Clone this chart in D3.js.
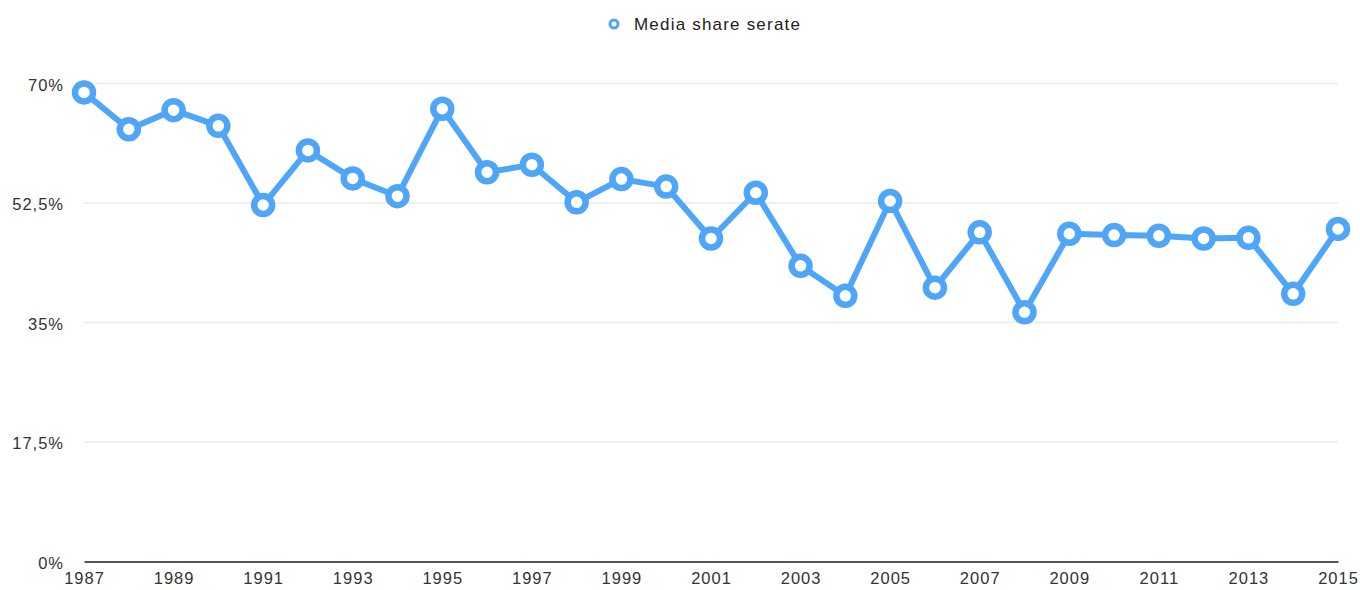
<!DOCTYPE html>
<html>
<head>
<meta charset="utf-8">
<script src="https://cdn.jsdelivr.net/npm/d3@7"></script>
<style>
  body { margin: 0; background: #fff; }
  text { font-family: "Liberation Sans", Arial, Helvetica, sans-serif; }
</style>
</head>
<body>
<svg id="chart" width="1360" height="590"></svg>
<script>
// anni e share medio delle serate
var years = [1987, 1988, 1989, 1990, 1991, 1992, 1993, 1994, 1995, 1996,
             1997, 1998, 1999, 2000, 2001, 2002, 2003, 2004, 2005, 2006,
             2007, 2008, 2009, 2010, 2011, 2012, 2013, 2014, 2015];
var share = [68.7, 63.3, 66.1, 63.8, 52.2, 60.2, 56.1, 53.5, 66.3, 57.0,
             58.1, 52.6, 56.0, 54.9, 47.3, 54.0, 43.3, 38.9, 52.8, 40.1,
             48.2, 36.5, 48.0, 47.8, 47.7, 47.3, 47.4, 39.2, 48.7];
var yTicks = [0, 17.5, 35, 52.5, 70];
var xTicks = [1987, 1989, 1991, 1993, 1995, 1997, 1999, 2001, 2003, 2005, 2007, 2009, 2011, 2013, 2015];
var seriesName = "Media share serate";

var blue = "#4fa5f8";
var svg = d3.select("#chart");

var x = d3.scaleLinear().domain([1987, 2015]).range([84, 1338]);
var y = d3.scaleLinear().domain([0, 70]).range([561.5, 83.5]);

function fmt(v) {
  return String(v).replace(".", ",") + "%";
}

// griglia
svg.append("g")
  .selectAll("line")
  .data(yTicks.filter(function(d) { return d > 0; }))
  .enter().append("line")
  .attr("x1", x.range()[0])
  .attr("x2", x.range()[1])
  .attr("y1", function(d) { return y(d); })
  .attr("y2", function(d) { return y(d); })
  .attr("stroke", "#ebebeb")
  .attr("stroke-width", 1.3);

// etichette asse y
svg.append("g")
  .selectAll("text")
  .data(yTicks)
  .enter().append("text")
  .attr("x", 64)
  .attr("y", function(d) { return y(d) + 1.5; })
  .attr("dy", "0.35em")
  .attr("text-anchor", "end")
  .attr("font-size", 16.5)
  .attr("letter-spacing", 1)
  .attr("fill", "#333")
  .text(fmt);

// asse x
var xAxis = d3.axisBottom(x)
  .tickValues(xTicks)
  .tickFormat(d3.format("d"))
  .tickSize(0)
  .tickPadding(11);

var gx = svg.append("g")
  .attr("transform", "translate(0," + y(0) + ")")
  .call(xAxis);
gx.select(".domain").attr("stroke", "#555").attr("stroke-width", 2.2);
gx.selectAll("text")
  .attr("font-size", 16.5)
  .attr("letter-spacing", 1)
  .attr("fill", "#333")
  .style("font-family", "'Liberation Sans', Arial, sans-serif");

// linea
var line = d3.line()
  .x(function(d, i) { return x(years[i]); })
  .y(function(d) { return y(d); });

svg.append("path")
  .datum(share)
  .attr("d", line)
  .attr("fill", "none")
  .attr("stroke", blue)
  .attr("stroke-width", 6)
  .attr("stroke-linejoin", "round");

svg.append("g")
  .selectAll("circle")
  .data(share)
  .enter().append("circle")
  .attr("cx", function(d, i) { return x(years[i]); })
  .attr("cy", function(d) { return y(d); })
  .attr("r", 9)
  .attr("fill", "#fff")
  .attr("stroke", blue)
  .attr("stroke-width", 6.5);

// legenda
var legend = svg.append("g").attr("transform", "translate(614,24)");
legend.append("circle")
  .attr("r", 4)
  .attr("fill", "#fff")
  .attr("stroke", blue)
  .attr("stroke-width", 3);
legend.append("text")
  .attr("x", 20)
  .attr("dy", "0.35em")
  .attr("font-size", 17)
  .attr("letter-spacing", 1.2)
  .attr("fill", "#222")
  .text(seriesName);
</script>
</body>
</html>
